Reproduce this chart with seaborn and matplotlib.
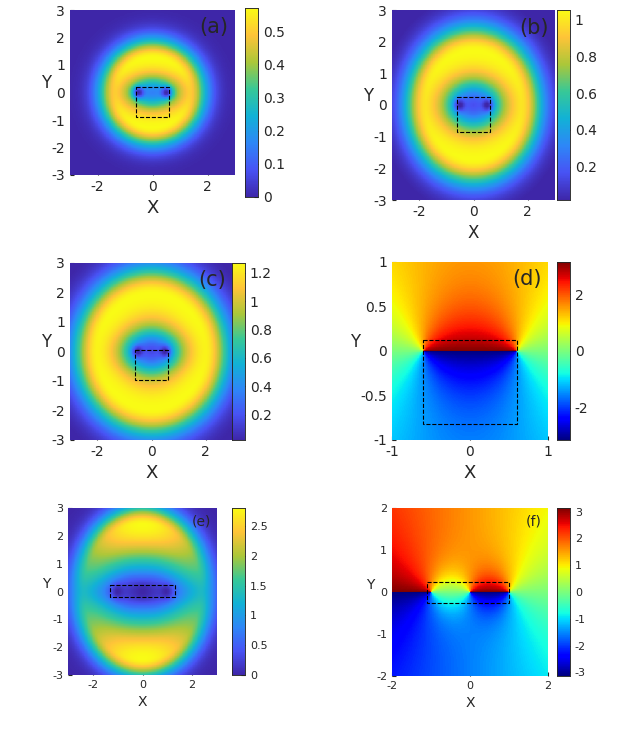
import numpy as np
import matplotlib
matplotlib.use("Agg")
import matplotlib.pyplot as plt
import seaborn as sns
from matplotlib.colors import LinearSegmentedColormap
from matplotlib.patches import Rectangle

sns.set_style("white")
plt.rcParams['font.family'] = ['DejaVu Sans']

# parula-like colormap
parula_pts = [[0.2422, 0.1504, 0.6603], [0.2810, 0.3228, 0.9579], [0.1786, 0.5289, 0.9682],
              [0.0689, 0.6948, 0.8394], [0.2161, 0.7843, 0.5923], [0.6720, 0.7793, 0.2227],
              [0.9970, 0.7659, 0.2199], [0.9769, 0.9839, 0.0805]]
parula = LinearSegmentedColormap.from_list("parula", parula_pts)

# amplitude panels: peak, ring radius, inner/outer width, dip, dip ellipse, vortex x, core
labels = ["(a)", "(b)", "(c)", "(d)", "(e)", "(f)"]
peaks = [0.57, 1.05, 1.27, None, 2.8, None]
radii = [1.25, 1.7, 1.95, None, 2.3, None]
w_in = [3.0, 2.5, 2.2, None, 1.6, None]
w_out = [0.75, 0.9, 1.0, None, 0.7, None]
dips = [0.68, 0.76, 0.72, None, 0.74, None]
dip_ax = [1.0, 1.1, 1.05, None, 1.8, None]
dip_ay = [0.6, 0.75, 0.65, None, 0.5, None]
vort_x = [[-0.5, 0.5], [-0.5, 0.5], [-0.5, 0.5], [-0.6, 0.6], [-1.0, 0.0, 0.95], None]
cores = [0.2, 0.2, 0.2, None, 0.25, None]
boxes = [(-0.6, -0.9, 1.2, 1.1), (-0.6, -0.85, 1.2, 1.1), (-0.6, -0.95, 1.2, 1.0),
         (-0.6, -0.82, 1.2, 0.94), (-1.3, -0.2, 2.6, 0.45), (-1.1, -0.25, 2.1, 0.5)]
extent = [3, 3, 3, 1, 3, 2]
xticks = [[-2, 0, 2], [-2, 0, 2], [-2, 0, 2], [-1, 0, 1], [-2, 0, 2], [-2, 0, 2]]
yticks = [[-3, -2, -1, 0, 1, 2, 3]] * 3 + [[-1, -0.5, 0, 0.5, 1]] + [[-3, -2, -1, 0, 1, 2, 3], [-2, -1, 0, 1, 2]]
cb_lim = [(0, 0.57), (0.02, 1.05), (0.02, 1.27), (-3.14, 3.14), (0, 2.8), (-3.14, 3.14)]
cb_ticks = [[0, 0.1, 0.2, 0.3, 0.4, 0.5], [0.2, 0.4, 0.6, 0.8, 1], [0.2, 0.4, 0.6, 0.8, 1, 1.2],
            [-2, 0, 2], [0, 0.5, 1, 1.5, 2, 2.5], [-3, -2, -1, 0, 1, 2, 3]]

# axes [left, top, width, height] and colorbar rects in pixel units (627x737)
W, H = 627, 737
ax_px = [(70, 10, 165, 165), (392, 10, 163, 190), (70, 263, 163, 177), (392, 262, 156, 178),
         (68, 508, 149, 167), (392, 508, 156, 168)]
cb_px = [(245, 8, 13, 189), (557, 10, 13, 190), (232, 263, 13, 177), (557, 262, 13, 178),
         (232, 508, 13, 167), (557, 508, 13, 168)]

N = 240
fig = plt.figure(figsize=(W / 100, H / 100), dpi=100)

for i in range(6):
    L = extent[i]
    g = np.linspace(-L, L, N)
    X, Y = np.meshgrid(g, g)
    Z = X + 1j * Y
    if i == 3:
        a = vort_x[3][1]
        field = np.angle((Z - a) / (Z + a) * np.exp(0.5j * Y))
        cmap = "jet"
    elif i == 5:
        field = np.angle((Z + 1) * (Z - 1) / (Z + 1e-9))
        cmap = "jet"
    else:
        sy = 1.05 if i == 4 else 1.0
        rho = np.sqrt(X ** 2 + (Y / sy) ** 2)
        d = rho - radii[i]
        ring = np.where(d < 0, np.exp(-(d / w_in[i]) ** 2), np.exp(-(d / w_out[i]) ** 2))
        if i == 4:
            th = np.arctan2(Y, X)
            ring = ring * (0.55 + 0.45 * np.sin(th) ** 2)
        ring = ring * (1 - dips[i] * np.exp(-(X ** 2 / dip_ax[i] ** 2 + Y ** 2 / dip_ay[i] ** 2)))
        for vx in vort_x[i]:
            ring = ring * (1 - np.exp(-((X - vx) ** 2 + Y ** 2) / cores[i] ** 2))
        field = peaks[i] * ring / ring.max()
        cmap = parula
    l, t, w, h = ax_px[i]
    ax = fig.add_axes([l / W, 1 - (t + h) / H, w / W, h / H])
    cl, ct, cw, ch = cb_px[i]
    cax = fig.add_axes([cl / W, 1 - (ct + ch) / H, cw / W, ch / H])
    sns.heatmap(field[::-1], ax=ax, cbar_ax=cax, cmap=cmap, vmin=cb_lim[i][0], vmax=cb_lim[i][1],
                xticklabels=False, yticklabels=False, rasterized=True)
    small = i >= 4
    fs = 8 if small else 10
    to_ix = lambda v: (v + L) / (2 * L) * N
    to_iy = lambda v: (L - v) / (2 * L) * N
    ax.set_xticks([to_ix(v) for v in xticks[i]])
    ax.set_xticklabels([f"{v:g}" for v in xticks[i]], fontsize=fs)
    ax.set_yticks([to_iy(v) for v in yticks[i]])
    ax.set_yticklabels([f"{v:g}" for v in yticks[i]], fontsize=fs, rotation=0)
    ax.tick_params(length=3, direction="in", left=True, bottom=True)
    ax.set_xlabel("X", fontsize=10 if small else (12 if i in (1,) else 13))
    ax.set_ylabel("Y", fontsize=10 if small else 12, rotation=0, labelpad=4)
    bx, by, bw, bh = boxes[i]
    ax.add_patch(Rectangle((to_ix(bx), to_iy(by + bh)), bw / (2 * L) * N, bh / (2 * L) * N,
                           fill=False, ls="--", lw=0.8, ec="black"))
    ax.text(0.96, 0.96, labels[i], transform=ax.transAxes, ha="right", va="top",
            fontsize=10 if small else 15)
    cax.set_yticks(cb_ticks[i])
    cax.set_yticklabels([f"{v:g}" for v in cb_ticks[i]], fontsize=fs)
    cax.tick_params(length=3, direction="in")
    for sp in cax.spines.values():
        sp.set_visible(True)
        sp.set_linewidth(0.5)

fig.savefig("out.png", dpi=100)
